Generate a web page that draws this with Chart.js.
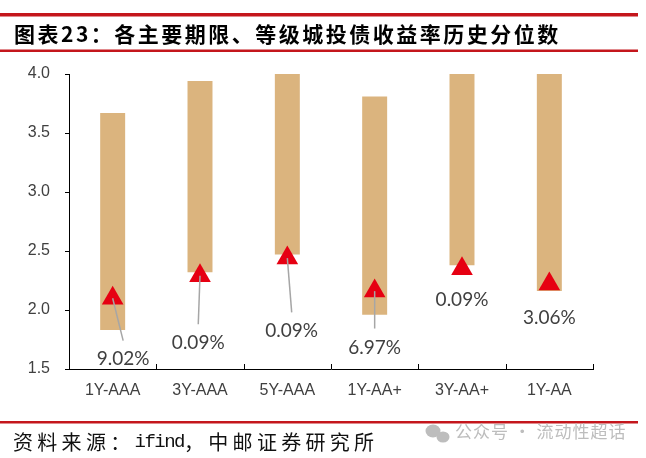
<!DOCTYPE html>
<html>
<head>
<meta charset="utf-8">
<script src="https://cdn.jsdelivr.net/npm/chart.js@4/dist/chart.umd.min.js"></script>
<style>
  html, body { margin: 0; padding: 0; background: #fff; }
  #wrap { position: relative; width: 646px; height: 458px; }
</style>
</head>
<body>
<div id="wrap"><canvas id="chart" width="646" height="458"></canvas></div>
<script>
// Historical range (min-max) of yield per tenor/rating, current yield, and its percentile
const CATEGORIES = ['1Y-AAA', '3Y-AAA', '5Y-AAA', '1Y-AA+', '3Y-AA+', '1Y-AA'];
const RANGE_LOW = [1.83, 2.32, 2.47, 1.96, 2.38, 2.16];
const RANGE_HIGH = [3.67, 3.94, 4.0, 3.81, 4.0, 4.0];
const CURRENT = [2.10, 2.29, 2.44, 2.16, 2.35, 2.22];
const PERCENTILE = ['9.02%', '0.09%', '0.09%', '6.97%', '0.09%', '3.06%'];
const Y_TICKS = [1.5, 2.0, 2.5, 3.0, 3.5, 4.0];

// where each percentile label sits (value units) and where its leader line stops
const LABEL_Y = [1.585, 1.724, 1.823, 1.681, 2.087, 1.936];
const LABEL_DX = [0.12, -0.02, 0.05, 0, 0, 0];
const LEADER_END_Y = [1.74, 1.88, 1.98, 1.843, null, null];

const TEXT = '#404040';
const BAR = '#DBB47E';
const RED = '#E60012';
const RULE = '#C4161C';

// draws a run of [text, font, letterSpacing] pieces left to right
function drawRun(ctx, pieces, x, y) {
  pieces.forEach(([t, font, ls]) => {
    ctx.font = font;
    ctx.letterSpacing = ls;
    ctx.fillText(t, x, y);
    x += ctx.measureText(t).width;
  });
  ctx.letterSpacing = '0px';
}

const pageText = {
  id: 'pageText',
  beforeDraw(chart) {
    const ctx = chart.ctx;
    ctx.save();
    ctx.fillStyle = '#fff';
    ctx.fillRect(0, 0, chart.width, chart.height);
    // rules
    ctx.fillStyle = RULE;
    ctx.fillRect(0, 13, 638, 3.5);
    ctx.fillRect(0, 49.5, 638, 2.5);
    ctx.fillRect(0, 421, 638, 2.5);
    // title
    ctx.fillStyle = '#000';
    ctx.textBaseline = 'middle';
    drawRun(ctx, [['图表23：各主要期限、等级城投债收益率历史分位数', 'bold 21px "Noto Sans CJK SC"', '2.5px']], 14, 34.5);
    // source
    ctx.fillStyle = '#111';
    drawRun(ctx, [
      ['资料来源：', '20px "Noto Sans CJK SC"', '4.3px'],
      ['ifind', '19px "Liberation Mono"', '-1.5px'],
      ['，中邮证券研究所', '20px "Noto Sans CJK SC"', '4.3px']
    ], 13, 442);
    // watermark
    ctx.fillStyle = '#bdbdbd';
    ctx.beginPath();
    ctx.ellipse(433, 431, 7.5, 6.5, 0, 0, Math.PI * 2);
    ctx.fill();
    ctx.beginPath();
    ctx.ellipse(443, 437, 6.5, 5.5, 0, 0, Math.PI * 2);
    ctx.fill();
    drawRun(ctx, [['公众号 · 流动性超话', '17px "Noto Sans CJK SC"', '1px']], 455, 432);
    ctx.restore();
  }
};

// x ticks point up into the plot at the category boundaries
const innerTicks = {
  id: 'innerTicks',
  afterDraw(chart) {
    const ctx = chart.ctx;
    const x = chart.scales.x;
    const b = chart.chartArea.bottom;
    ctx.save();
    ctx.strokeStyle = '#000';
    ctx.lineWidth = 1;
    for (let i = 0; i <= CATEGORIES.length; i++) {
      const px = Math.round(x.getPixelForValue(i - 0.5)) + 0.5;
      ctx.beginPath();
      ctx.moveTo(px, b);
      ctx.lineTo(px, b - 5);
      ctx.stroke();
    }
    ctx.restore();
  }
};

const leaders = {
  id: 'leaders',
  afterDatasetsDraw(chart) {
    const ctx = chart.ctx;
    const x = chart.scales.x, y = chart.scales.y;
    ctx.save();
    ctx.strokeStyle = '#a6a6a6';
    ctx.lineWidth = 1.5;
    CATEGORIES.forEach((c, i) => {
      if (LEADER_END_Y[i] == null) return;
      ctx.beginPath();
      ctx.moveTo(x.getPixelForValue(i), y.getPixelForValue(CURRENT[i]));
      ctx.lineTo(x.getPixelForValue(i + LABEL_DX[i]), y.getPixelForValue(LEADER_END_Y[i]));
      ctx.stroke();
    });
    ctx.fillStyle = TEXT;
    ctx.font = '19px Lato';
    ctx.textAlign = 'center';
    ctx.textBaseline = 'middle';
    PERCENTILE.forEach((t, i) => {
      ctx.fillText(t, x.getPixelForValue(i + LABEL_DX[i]), y.getPixelForValue(LABEL_Y[i]));
    });
    ctx.restore();
  }
};

new Chart(document.getElementById('chart'), {
  data: {
    labels: CATEGORIES,
    datasets: [
      {
        type: 'line',
        label: 'current',
        data: CURRENT,
        showLine: false,
        pointStyle: 'triangle',
        pointRadius: 12.5,
        pointHoverRadius: 12.5,
        pointBackgroundColor: RED,
        pointBorderWidth: 0,
        order: 1
      },
      {
        type: 'bar',
        label: 'range',
        data: RANGE_LOW.map((lo, i) => [lo, RANGE_HIGH[i]]),
        backgroundColor: BAR,
        categoryPercentage: 1,
        barPercentage: 0.286,
        order: 2
      }
    ]
  },
  options: {
    responsive: false,
    animation: false,
    layout: { padding: { left: 0, right: 53, top: 74, bottom: 0 } },
    plugins: { legend: { display: false }, tooltip: { enabled: false } },
    scales: {
      x: {
        type: 'category',
        offset: true,
        grid: { offset: true, drawOnChartArea: false, drawTicks: false },
        border: { color: '#000', width: 1 },
        ticks: { color: TEXT, font: { family: 'Liberation Sans', size: 16 }, padding: 12, maxRotation: 0 },
        afterFit(s) { s.height = 89; }
      },
      y: {
        min: 1.5,
        max: 4.0,
        afterBuildTicks(s) { s.ticks = Y_TICKS.map(v => ({ value: v })); },
        grid: { drawOnChartArea: false, tickLength: 4, tickColor: '#000' },
        border: { color: '#000', width: 1 },
        ticks: {
          color: TEXT,
          font: { family: 'Liberation Sans', size: 16 },
          padding: 15,
          callback: v => v.toFixed(1)
        },
        afterFit(s) { s.width = 69; }
      }
    }
  },
  plugins: [pageText, innerTicks, leaders]
});
</script>
</body>
</html>
